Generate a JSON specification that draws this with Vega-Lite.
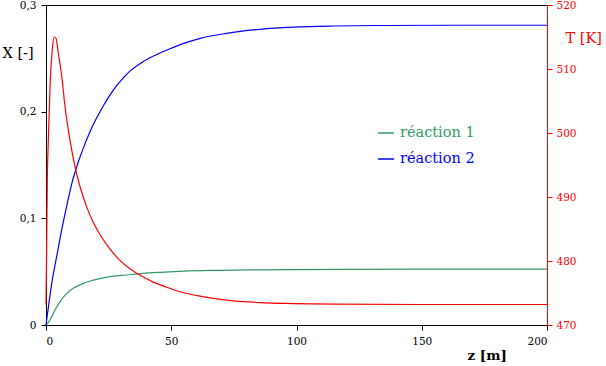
{
  "$schema": "https://vega.github.io/schema/vega-lite/v6.json",
  "width": 501,
  "height": 320,
  "autosize": {"type": "none"},
  "padding": {"left": 46, "top": 5, "right": 59, "bottom": 41},
  "background": "white",
  "config": {
    "view": {"stroke": "black", "strokeWidth": 1},
    "font": "DejaVu Serif",
    "style": {
      "guide-label": {"font": "DejaVu Serif"},
      "guide-title": {"font": "DejaVu Serif"}
    },
    "axis": {
      "grid": false,
      "tickSize": 5,
      "domainColor": "black",
      "tickColor": "black",
      "labelColor": "black",
      "titleColor": "black"
    }
  },
  "datasets": {
    "X": [
      {"z": 0, "s": "réaction 1", "X": 0},
      {"z": 1.6, "s": "réaction 1", "X": 0.0047},
      {"z": 3.6, "s": "réaction 1", "X": 0.014},
      {"z": 5.6, "s": "réaction 1", "X": 0.0219},
      {"z": 8.3, "s": "réaction 1", "X": 0.0297},
      {"z": 10.9, "s": "réaction 1", "X": 0.0344},
      {"z": 14.9, "s": "réaction 1", "X": 0.039},
      {"z": 20.2, "s": "réaction 1", "X": 0.0428},
      {"z": 25.5, "s": "réaction 1", "X": 0.0453},
      {"z": 32.2, "s": "réaction 1", "X": 0.0469},
      {"z": 38.8, "s": "réaction 1", "X": 0.0484},
      {"z": 45.5, "s": "réaction 1", "X": 0.0494},
      {"z": 55, "s": "réaction 1", "X": 0.0505},
      {"z": 65, "s": "réaction 1", "X": 0.0512},
      {"z": 80, "s": "réaction 1", "X": 0.0516},
      {"z": 100, "s": "réaction 1", "X": 0.052},
      {"z": 120, "s": "réaction 1", "X": 0.0522},
      {"z": 150, "s": "réaction 1", "X": 0.0523},
      {"z": 200, "s": "réaction 1", "X": 0.0523},
      {"z": 0, "s": "réaction 2", "X": 0},
      {"z": 0.8, "s": "réaction 2", "X": 0.0141},
      {"z": 2.5, "s": "réaction 2", "X": 0.042},
      {"z": 4.5, "s": "réaction 2", "X": 0.0672},
      {"z": 6.5, "s": "réaction 2", "X": 0.092},
      {"z": 8.5, "s": "réaction 2", "X": 0.1141},
      {"z": 10.5, "s": "réaction 2", "X": 0.1345},
      {"z": 12.5, "s": "réaction 2", "X": 0.15},
      {"z": 15, "s": "réaction 2", "X": 0.1665},
      {"z": 17.6, "s": "réaction 2", "X": 0.1815},
      {"z": 20.2, "s": "réaction 2", "X": 0.194},
      {"z": 22.9, "s": "réaction 2", "X": 0.2055},
      {"z": 25.5, "s": "réaction 2", "X": 0.2155},
      {"z": 28.2, "s": "réaction 2", "X": 0.2245},
      {"z": 31, "s": "réaction 2", "X": 0.232},
      {"z": 33.5, "s": "réaction 2", "X": 0.238},
      {"z": 37.5, "s": "réaction 2", "X": 0.245},
      {"z": 41.5, "s": "réaction 2", "X": 0.2505},
      {"z": 45.5, "s": "réaction 2", "X": 0.255},
      {"z": 49.5, "s": "réaction 2", "X": 0.259},
      {"z": 55, "s": "réaction 2", "X": 0.264},
      {"z": 62, "s": "réaction 2", "X": 0.269},
      {"z": 72, "s": "réaction 2", "X": 0.2734},
      {"z": 85.4, "s": "réaction 2", "X": 0.2772},
      {"z": 98.7, "s": "réaction 2", "X": 0.2792},
      {"z": 115, "s": "réaction 2", "X": 0.2803},
      {"z": 135, "s": "réaction 2", "X": 0.2808},
      {"z": 160, "s": "réaction 2", "X": 0.281},
      {"z": 200, "s": "réaction 2", "X": 0.281}
    ],
    "T": [
      {"z": 0, "T": 473.2},
      {"z": 0.27, "T": 482.5},
      {"z": 0.5, "T": 492.1},
      {"z": 0.9, "T": 498.4},
      {"z": 1.6, "T": 507.2},
      {"z": 2.5, "T": 513},
      {"z": 3.3, "T": 515},
      {"z": 4.0, "T": 514.8},
      {"z": 4.9, "T": 512.5},
      {"z": 6.3, "T": 508.8},
      {"z": 7.6, "T": 504.1},
      {"z": 8.9, "T": 500.5},
      {"z": 10.3, "T": 497.3},
      {"z": 11.6, "T": 494.7},
      {"z": 13.6, "T": 491.6},
      {"z": 16.2, "T": 488.5},
      {"z": 18.9, "T": 486.0},
      {"z": 21.6, "T": 484.1},
      {"z": 25.5, "T": 481.9},
      {"z": 29.5, "T": 480.1},
      {"z": 33.5, "T": 478.8},
      {"z": 37.5, "T": 477.8},
      {"z": 42.8, "T": 476.7},
      {"z": 47.5, "T": 476.0},
      {"z": 53.5, "T": 475.2},
      {"z": 61.5, "T": 474.5},
      {"z": 72, "T": 473.9},
      {"z": 85.4, "T": 473.5},
      {"z": 98.7, "T": 473.35},
      {"z": 115, "T": 473.25},
      {"z": 150, "T": 473.2},
      {"z": 200, "T": 473.2}
    ]
  },
  "layer": [
    {
      "data": {"name": "X"},
      "mark": {"type": "line", "interpolate": "monotone", "strokeWidth": 1.2},
      "encoding": {
        "x": {
          "field": "z",
          "type": "quantitative",
          "scale": {"domain": [0, 200], "nice": false},
          "axis": {
            "values": [0, 50, 100, 150, 200],
            "labelFont": "DejaVu Serif",
            "labelFontSize": 10.5,
            "labelPadding": 6,
            "title": "z [m]",
            "titleFont": "DejaVu Serif",
            "titleFontWeight": "bold",
            "titleFontSize": 13.5,
            "titleX": 421,
            "titleY": 30,
            "titleAlign": "left",
            "titleBaseline": "middle"
          }
        },
        "y": {
          "field": "X",
          "type": "quantitative",
          "scale": {"domain": [0, 0.3], "nice": false},
          "axis": {
            "values": [0, 0.1, 0.2, 0.3],
            "format": ".1~f",
            "labelExpr": "replace(datum.label, '.', ',')",
            "labelFont": "DejaVu Serif",
            "labelFontSize": 10.5,
            "labelPadding": 5,
            "title": "X [-]",
            "titleFont": "DejaVu Serif",
            "titleFontSize": 14.5,
            "titleFontWeight": "normal",
            "titleAngle": 0,
            "titleX": -44,
            "titleY": 48,
            "titleAlign": "left",
            "titleBaseline": "middle"
          }
        },
        "color": {
          "field": "s",
          "type": "nominal",
          "scale": {"domain": ["réaction 1", "réaction 2"], "range": ["#339966", "#0000ff"]},
          "legend": {
            "orient": "none",
            "legendX": 331,
            "legendY": 119,
            "title": null,
            "symbolType": "stroke",
            "symbolSize": 256,
            "symbolStrokeWidth": 1.5,
            "labelFont": "DejaVu Serif",
            "labelFontSize": 14.5,
            "labelOffset": 5,
            "rowPadding": 10,
            "labelColor": {"expr": "datum.value == 'réaction 1' ? '#339966' : '#0000ff'"}
          }
        }
      }
    },
    {
      "data": {"name": "T"},
      "mark": {"type": "line", "interpolate": "monotone", "color": "#ff0000", "strokeWidth": 1.2},
      "encoding": {
        "x": {"field": "z", "type": "quantitative"},
        "y": {
          "field": "T",
          "type": "quantitative",
          "scale": {"domain": [470, 520], "nice": false},
          "axis": {
            "orient": "right",
            "values": [470, 480, 490, 500, 510, 520],
            "domainColor": "#ff0000",
            "tickColor": "#ff0000",
            "labelColor": "#ff0000",
            "titleColor": "#ff0000",
            "labelFont": "DejaVu Serif",
            "labelFontSize": 10.5,
            "labelPadding": 4,
            "title": "T [K]",
            "titleFont": "DejaVu Serif",
            "titleFontSize": 14.5,
            "titleFontWeight": "normal",
            "titleAngle": 0,
            "titleX": 18,
            "titleY": 33,
            "titleAlign": "left",
            "titleBaseline": "middle"
          }
        }
      }
    }
  ],
  "resolve": {"scale": {"y": "independent", "color": "independent"}}
}
